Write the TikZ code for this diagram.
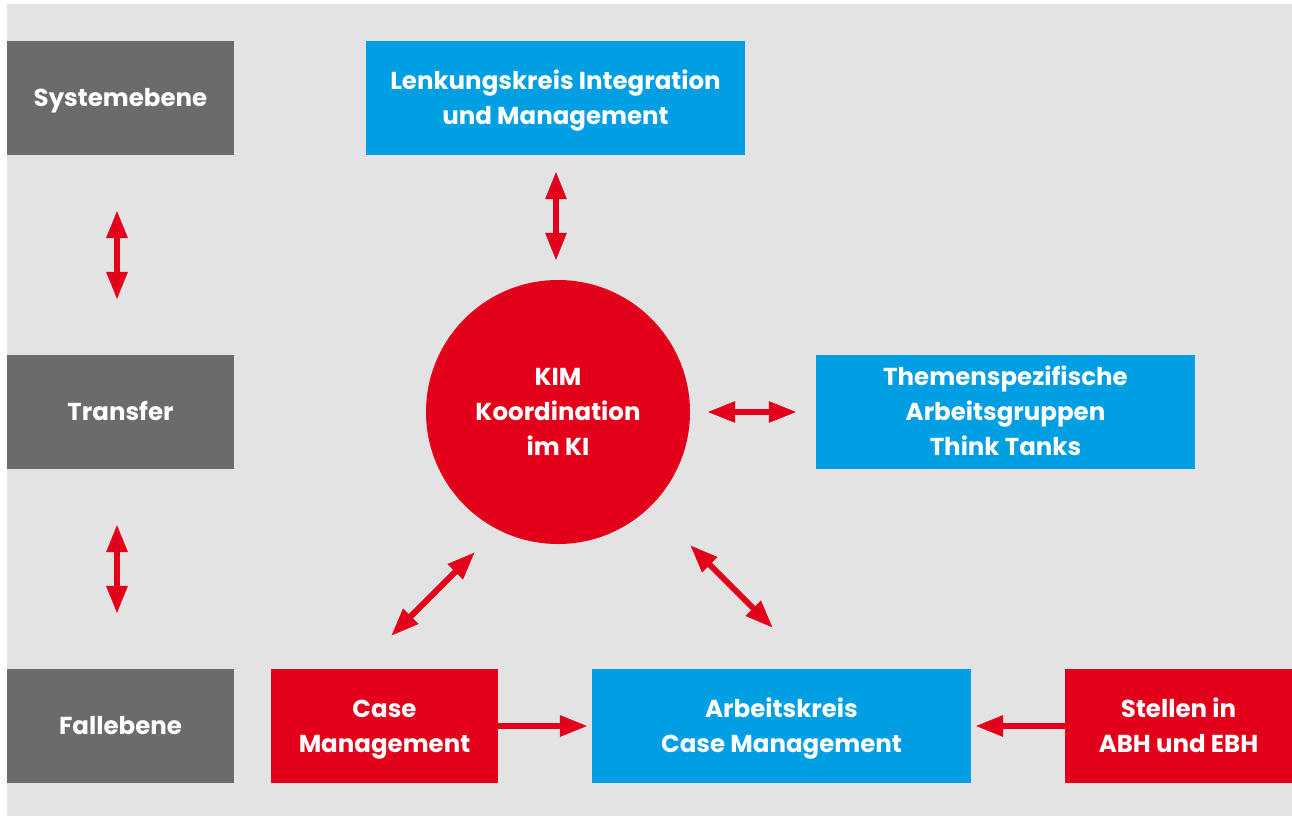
\documentclass[tikz,border=0pt]{standalone}
\usepackage{fontspec}
\setmainfont{Poppins}
\usetikzlibrary{arrows.meta}
\definecolor{bggray}{HTML}{E3E3E3}
\definecolor{boxgray}{HTML}{6B6B6B}
\definecolor{kblue}{HTML}{009FE3}
\definecolor{kred}{HTML}{E2001A}
\tikzset{
  txt/.style={inner sep=0pt, text=white, align=center, yshift=-1.5pt,
    font=\fontsize{24.5}{35}\selectfont\bfseries},
  box/.style={rectangle, inner sep=0pt},
  graybox/.style={box, fill=boxgray, minimum width=227pt, minimum height=114pt},
  redbox/.style={box, fill=kred, minimum width=227pt, minimum height=114pt},
  bluebox/.style={box, fill=kblue, minimum width=379pt, minimum height=114pt},
  conn/.style={draw=kred, line width=6pt},
  dbl/.style={conn, {Triangle[length=28pt,width=20pt]}-{Triangle[length=28pt,width=20pt]}},
  sgl/.style={conn, -{Triangle[length=28pt,width=20pt]}},
}
\begin{document}
\begin{tikzpicture}[x=1pt,y=-1pt]
\fill[white] (0,0) rectangle (1292,816);
\fill[bggray] (7,4) rectangle (1292,816);
\useasboundingbox (0,0) rectangle (1292,816);

\node[graybox, label={[txt]center:\strut Systemebene}] (sys) at (120.5,98) {};
\node[graybox, label={[txt]center:\strut Transfer}] (tra) at (120.5,412) {};
\node[graybox, label={[txt]center:\strut Fallebene}] (fal) at (120.5,726) {};

\node[bluebox, label={[txt]center:\strut Lenkungskreis Integration\\\strut und Management}] (lenk) at (555.5,98) {};
\node[bluebox, label={[txt]center:\strut Themenspezifische\\\strut Arbeitsgruppen\\\strut Think Tanks}] (them) at (1005.5,412) {};
\node[bluebox, label={[txt]center:\strut Arbeitskreis\\\strut Case Management}] (ak) at (781.5,726) {};

\node[redbox, label={[txt]center:\strut Case\\\strut Management}] (cm) at (384.5,726) {};
\node[redbox, label={[txt]center:\strut Stellen in\\\strut ABH und EBH}] (st) at (1178.5,726) {};

\node[circle, fill=kred, minimum size=264pt, inner sep=0pt,
  label={[txt]center:\strut KIM\\\strut Koordination\\\strut im KI}] (kim) at (558,412) {};

\draw[dbl, shorten <=55pt, shorten >=55pt] (sys.south -| 117,0) -- (tra.north -| 117,0);
\draw[dbl, shorten <=55pt, shorten >=55pt] (tra.south -| 117,0) -- (fal.north -| 117,0);
\draw[dbl, shorten <=16pt, shorten >=19pt] (lenk.south -| 556,0) -- (kim.north -| 556,0);
\draw[dbl, shorten <=17pt, shorten >=19pt] (kim.east) -- (them.west);

\coordinate (dl1) at (391,636);
\coordinate (dl2) at (475,552);
\coordinate (dr1) at (690,545);
\coordinate (dr2) at (773,628);
\draw[dbl] (dl1) -- (dl2);
\draw[dbl] (dr1) -- (dr2);

\draw[sgl, shorten >=4pt] (cm.east) -- (ak.west);
\draw[sgl, shorten >=4pt] (st.west) -- (ak.east);
\end{tikzpicture}
\end{document}
